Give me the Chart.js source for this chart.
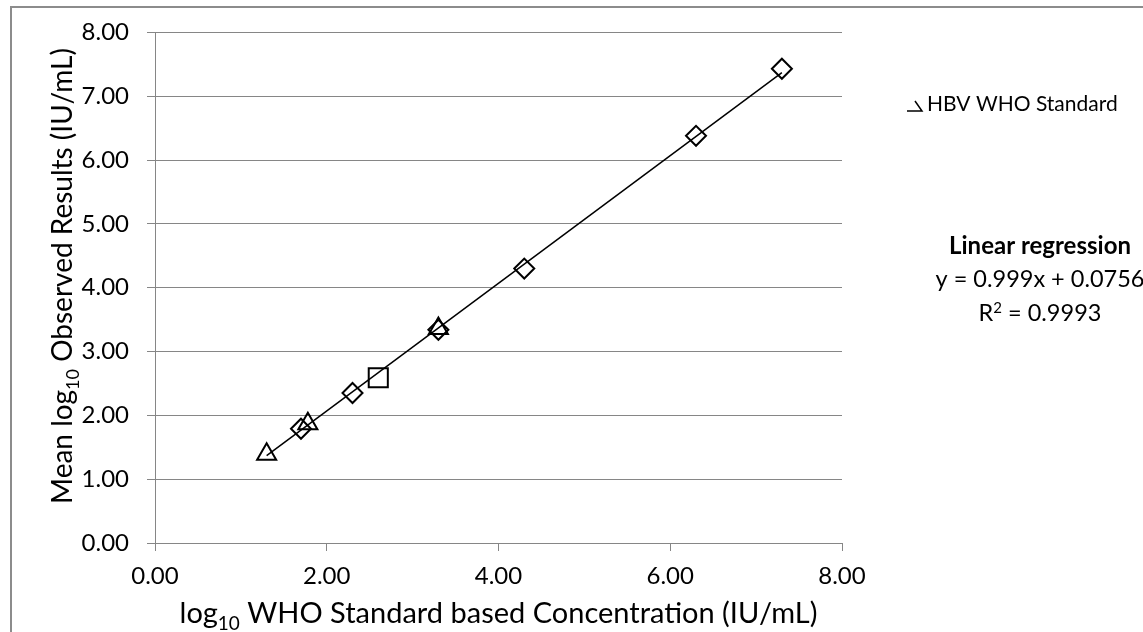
<!DOCTYPE html>
<html>
<head>
<meta charset="utf-8">
<script src="https://cdn.jsdelivr.net/npm/chart.js@4.4.1/dist/chart.umd.min.js"></script>
<style>
  html, body { margin: 0; padding: 0; background: #fff; }
  #wrap { width: 1143px; height: 632px; }
</style>
</head>
<body>
<div id="wrap"><canvas id="whoChart" width="1143" height="632"></canvas></div>
<script>
// values
const panelX = [1.70, 2.30, 3.30, 4.30, 6.30, 7.30];
const panelY = [1.79, 2.35, 3.34, 4.30, 6.38, 7.43];
const whoX = [1.30, 1.78, 3.30];
const whoY = [1.39, 1.87, 3.36];
const otherX = [2.60];
const otherY = [2.59];
const fitX = [1.30, 7.30];
const fitY = [1.37, 7.37];
const tickValues = [0, 2, 4, 6, 8];

const legendLabel = 'HBV WHO Standard';
const fitTitle = 'Linear regression';
const fitEquation = 'y = 0.999x + 0.0756';
const fitR2 = ' = 0.9993';

const axisGrey = '#868686';
const fontName = 'Lato, "Open Sans", sans-serif';

const toPoints = function (xs, ys) {
    let pts = [];
    for (var i = 0; i < xs.length; i++) {
        pts.push({ x: xs[i], y: ys[i] });
    }
    return pts;
};

// draws text pieces centred on x, some of them as sub- or superscript
const drawRich = function (ctx, parts, x, y, size) {
    const small = Math.round(size * 0.65);
    let total = 0;
    parts.forEach(p => {
        ctx.font = (p.sub || p.sup ? small : size) + 'px ' + fontName;
        p.w = ctx.measureText(p.t).width;
        total += p.w;
    });
    let cx = x - total / 2;
    parts.forEach(p => {
        ctx.font = (p.sub || p.sup ? small : size) + 'px ' + fontName;
        let dy = p.sub ? size * 0.25 : (p.sup ? -size * 0.36 : 0);
        ctx.fillText(p.t, cx, y + dy);
        cx += p.w;
    });
};

const extras = {
    id: 'extras',
    beforeDraw(chart) {
        const ctx = chart.ctx;
        ctx.save();
        ctx.fillStyle = '#fff';
        ctx.fillRect(0, 0, chart.width, chart.height);
        ctx.strokeStyle = '#8c8c8c';
        ctx.lineWidth = 2;
        ctx.strokeRect(11, 7, chart.width + 20, chart.height + 20);
        ctx.restore();
    },
    afterDraw(chart) {
        const ctx = chart.ctx;
        const area = chart.chartArea;
        ctx.save();
        ctx.fillStyle = '#000';
        ctx.textAlign = 'left';
        ctx.textBaseline = 'alphabetic';

        // x axis title
        drawRich(ctx, [{ t: 'log' }, { t: '10', sub: true }, { t: ' WHO Standard based Concentration (IU/mL)' }],
            (area.left + area.right) / 2, 623, 29);

        // y axis title
        ctx.save();
        ctx.translate(72, 276);
        ctx.rotate(-Math.PI / 2);
        drawRich(ctx, [{ t: 'Mean log' }, { t: '10', sub: true }, { t: ' Observed Results (IU/mL)' }], 0, 0, 28);
        ctx.restore();

        // legend (clipped triangle marker as in the original)
        ctx.strokeStyle = '#000';
        ctx.lineWidth = 1.5;
        ctx.beginPath();
        ctx.moveTo(907, 111);
        ctx.lineTo(922, 111);
        ctx.lineTo(915, 101);
        ctx.stroke();
        ctx.font = '21px ' + fontName;
        ctx.fillText(legendLabel, 927, 111);

        // regression box
        ctx.textAlign = 'center';
        ctx.font = 'bold 24px ' + fontName;
        ctx.fillText(fitTitle, 1040, 254);
        ctx.font = '23.5px ' + fontName;
        ctx.fillText(fitEquation, 1040, 287);
        ctx.textAlign = 'left';
        drawRich(ctx, [{ t: 'R' }, { t: '2', sup: true }, { t: fitR2 }], 1040, 321, 23.5);
        ctx.restore();
    }
};

const markerBase = {
    borderColor: '#000',
    backgroundColor: 'rgba(0,0,0,0)',
    borderWidth: 2,
    showLine: false
};

new Chart(document.getElementById('whoChart'), {
    type: 'scatter',
    data: {
        datasets: [
            Object.assign({ label: 'panel', data: toPoints(panelX, panelY), pointStyle: 'rectRot', pointRadius: 10 }, markerBase),
            Object.assign({ label: legendLabel, data: toPoints(whoX, whoY), pointStyle: 'triangle', pointRadius: 11 }, markerBase),
            Object.assign({ label: 'other', data: toPoints(otherX, otherY), pointStyle: 'rect', pointRadius: 13.5 }, markerBase),
            {
                label: 'fit',
                data: toPoints(fitX, fitY),
                showLine: true,
                borderColor: '#000',
                borderWidth: 1.5,
                pointRadius: 0
            }
        ]
    },
    options: {
        responsive: false,
        animation: false,
        devicePixelRatio: 1,
        layout: { padding: { left: 0, top: 29, right: 301, bottom: 0 } },
        plugins: {
            legend: { display: false },
            tooltip: { enabled: false }
        },
        scales: {
            x: {
                type: 'linear',
                min: 0,
                max: 8,
                afterBuildTicks: (scale) => { scale.ticks = tickValues.map(v => ({ value: v })); },
                afterFit: (scale) => { scale.height = 89; },
                ticks: {
                    callback: (v) => v.toFixed(2),
                    color: '#000',
                    font: { family: fontName, size: 24 },
                    padding: 11,
                    maxRotation: 0
                },
                grid: { drawOnChartArea: false, drawTicks: true, tickLength: 8, color: axisGrey, lineWidth: 1 },
                border: { color: axisGrey, width: 1 }
            },
            y: {
                type: 'linear',
                min: 0,
                max: 8,
                afterFit: (scale) => { scale.width = 155; },
                ticks: {
                    stepSize: 1,
                    callback: (v) => v.toFixed(2),
                    color: '#000',
                    font: { family: fontName, size: 24 },
                    padding: 18
                },
                grid: { drawOnChartArea: true, drawTicks: true, tickLength: 8, color: axisGrey, lineWidth: 1 },
                border: { color: axisGrey, width: 1 }
            }
        }
    },
    plugins: [extras]
});
</script>
</body>
</html>
